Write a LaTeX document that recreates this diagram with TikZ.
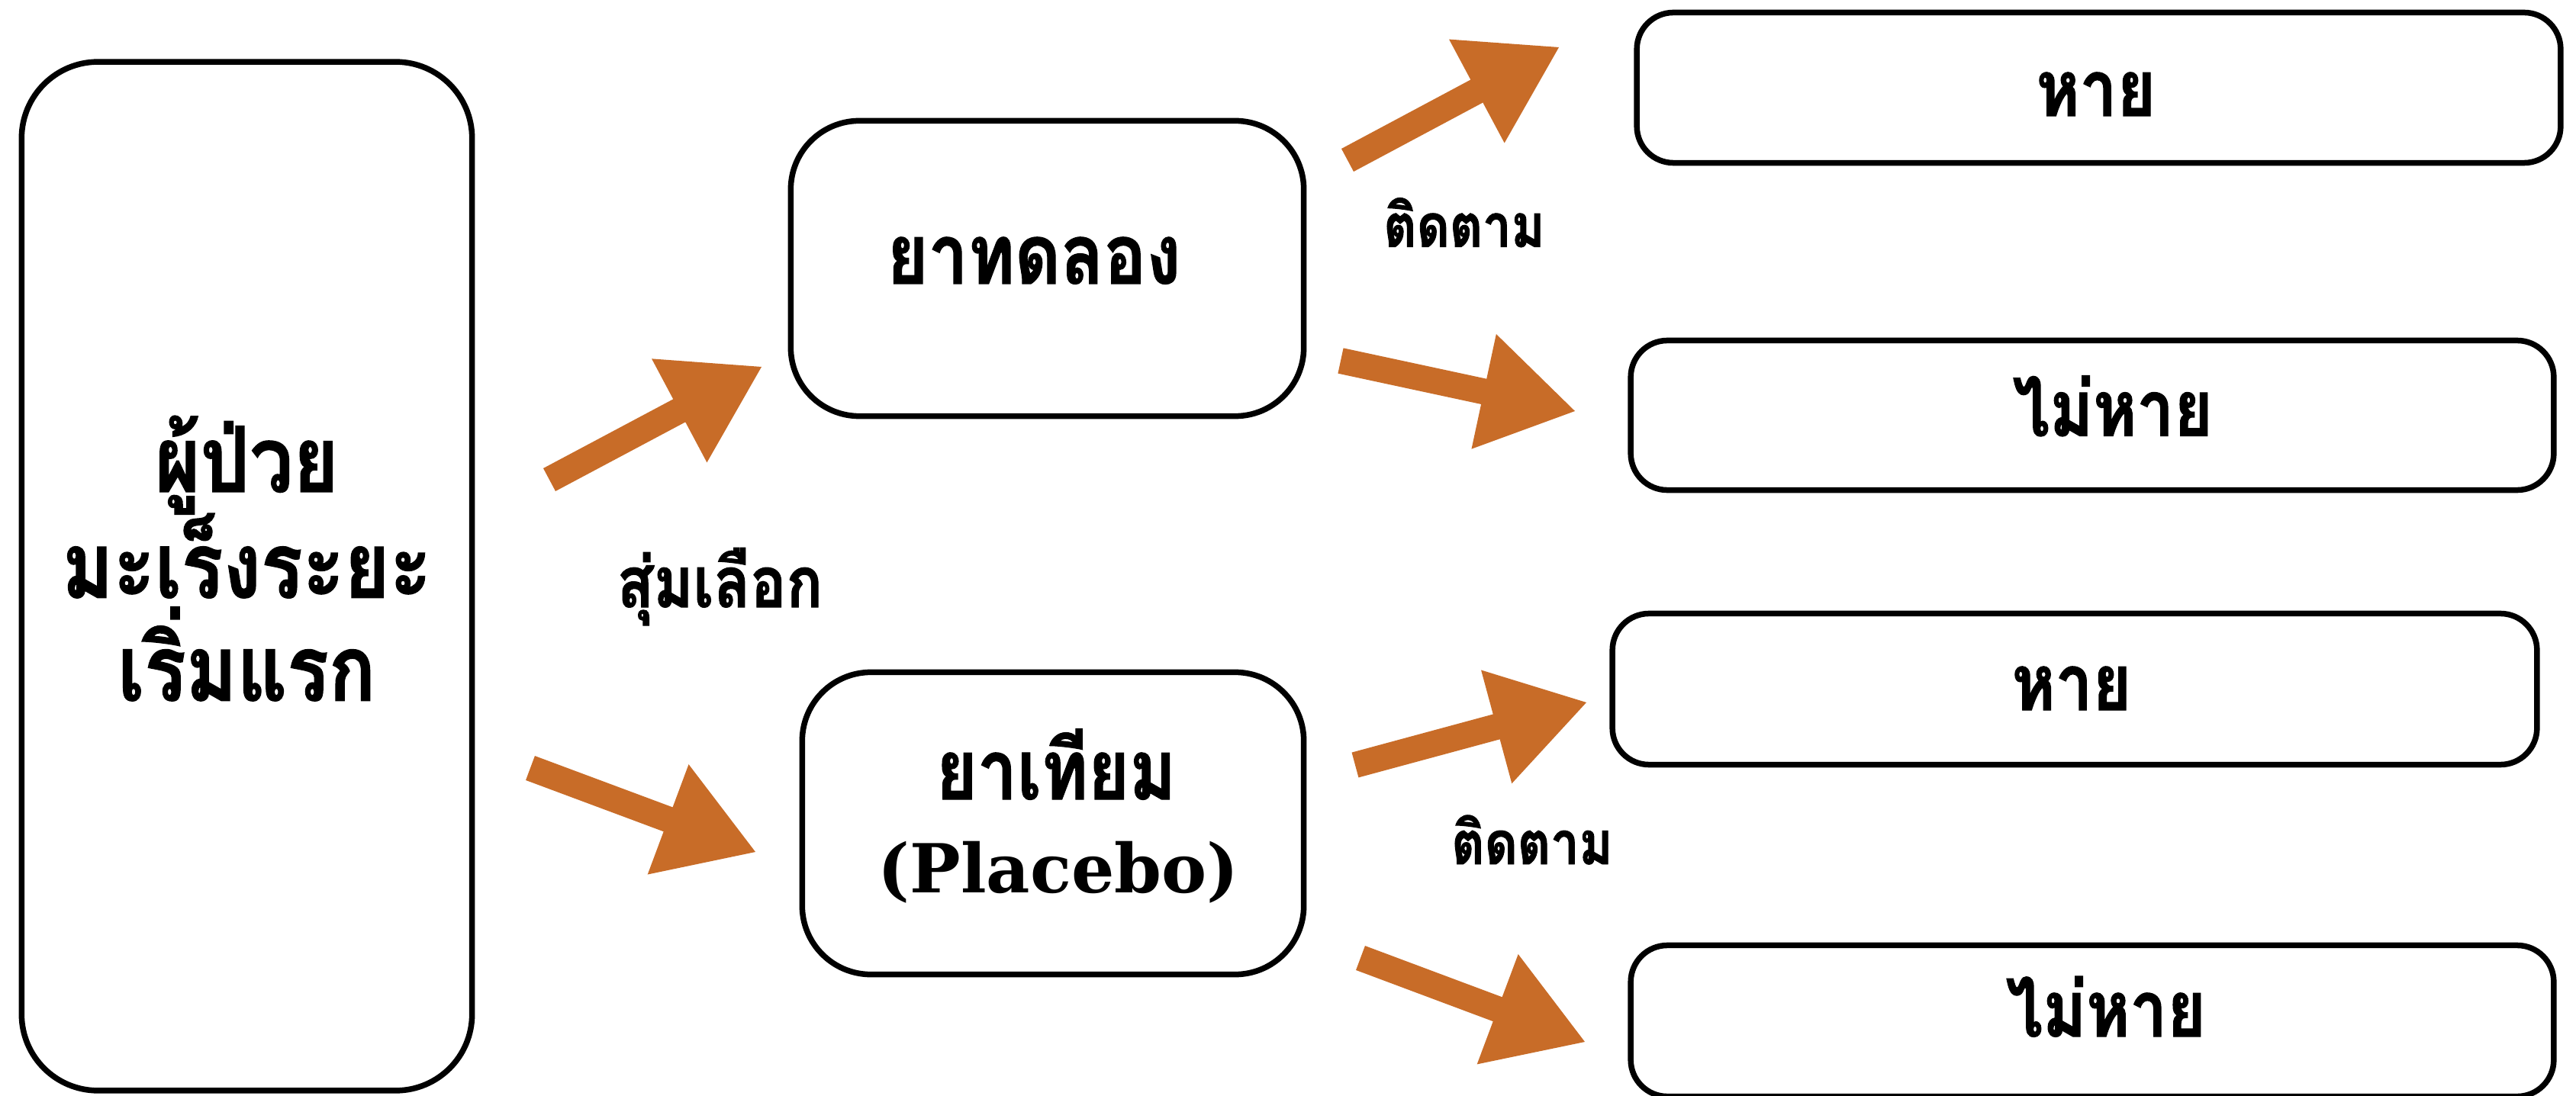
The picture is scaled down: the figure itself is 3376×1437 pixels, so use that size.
\documentclass[tikz,border=0pt]{standalone}
\usepackage{fontspec}
\usetikzlibrary{calc}
\newfontfamily\thaifont[Script=Thai,FakeStretch=0.85,BoldFeatures={FakeBold=1.2}]{Loma}
\newfontfamily\slabfont{DejaVu Serif}
\definecolor{arroworange}{RGB}{200,108,40}
\tikzset{
  box/.style={draw=black, line width=0.075cm, rounded corners=#1, inner sep=0pt, fill=white},
  box/.default=0.5cm,
  thaitxt/.style={inner sep=0pt, anchor=base, text=black},
}
\newcommand\thaisize[1]{\thaifont\bfseries\fontsize{#1}{#1}\selectfont}
\newcommand\fatarrow[2]{%
  \coordinate (#1m) at ($(#2)!1.22cm!(#1)$);
  \fill[arroworange] ($(#1)!0.17cm!90:(#2)$) -- ($(#1m)!0.17cm!90:(#2)$) -- ($(#1m)!0.77cm!90:(#2)$)
     -- (#2) -- ($(#1m)!0.77cm!-90:(#2)$) -- ($(#1m)!0.17cm!-90:(#2)$) -- ($(#1)!0.17cm!-90:(#2)$) -- cycle;
}
\begin{document}
\begin{tikzpicture}[x=0.01cm,y=-0.01cm]
\useasboundingbox (0,0) rectangle (3376,1437);
\fill[white] (0,0) rectangle (3376,1437);

% boxes
\node[box=1cm, minimum width=5.9cm, minimum height=13.48cm] (patient) at (323.5,755.5) {};
\node[box=0.9cm, minimum width=6.72cm, minimum height=3.87cm] (drug) at (1372.5,352) {};
\node[box=0.9cm, minimum width=6.57cm, minimum height=3.96cm] (placebo) at (1380,1079.5) {};
\node[box=0.48cm, minimum width=12.1cm, minimum height=1.97cm] (cureA) at (2750.5,115) {};
\node[box=0.48cm, minimum width=12.09cm, minimum height=1.96cm] (nocureA) at (2742,544.5) {};
\node[box=0.48cm, minimum width=12.11cm, minimum height=1.98cm] (cureB) at (2719,903.5) {};
\node[box=0.48cm, minimum width=12.09cm, minimum height=1.98cm] (nocureB) at (2742,1338.5) {};

% texts
\node[thaitxt, font=\thaisize{34}] (p1) at (323.5,645) {ผู้ป่วย};
\node[thaitxt, font=\thaisize{34}] (p2) at (323.5,783.7) {มะเร็งระยะ};
\node[thaitxt, font=\thaisize{34}] (p3) at (323.5,918.6) {เริ่มแรก};
\node[thaitxt, font=\thaisize{31}] (drugt) at (1355,372) {ยาทดลอง};
\node[thaitxt, font=\thaisize{31}] (plat) at (1384,1048) {ยาเทียม};
\node[thaitxt, font=\slabfont\bfseries\fontsize{25.2}{25.2}\selectfont] (plat2) at (1387,1170) {(Placebo)};
\node[thaitxt, font=\thaisize{29}] (curetA) at (2747,152) {หาย};
\node[thaitxt, font=\thaisize{29}] (nocuretA) at (2769,571.6) {ไม่หาย};
\node[thaitxt, font=\thaisize{29}] (curetB) at (2715,931) {หาย};
\node[thaitxt, font=\thaisize{29}] (nocuretB) at (2760,1359) {ไม่หาย};
\node[thaitxt, font=\thaisize{22.3}] (followA) at (1919,323.7) {ติดตาม};
\node[thaitxt, font=\thaisize{22.3}] (followB) at (2008,1133) {ติดตาม};
\node[thaitxt, font=\thaisize{26.3}] (random) at (943.5,796) {สุ่มเลือก};

% arrows
\coordinate (a1t) at (720,629);   \coordinate (a1p) at (998,481);
\coordinate (a2t) at (695,1007);  \coordinate (a2p) at (990,1117);
\coordinate (a3t) at (1766,210);  \coordinate (a3p) at (2043,62);
\coordinate (a4t) at (1757,473);  \coordinate (a4p) at (2064,539);
\coordinate (a5t) at (1776,1003); \coordinate (a5p) at (2079,921);
\coordinate (a6t) at (1783,1256); \coordinate (a6p) at (2077,1366);
\fatarrow{a1t}{a1p}
\fatarrow{a2t}{a2p}
\fatarrow{a3t}{a3p}
\fatarrow{a4t}{a4p}
\fatarrow{a5t}{a5p}
\fatarrow{a6t}{a6p}
\end{tikzpicture}
\end{document}
